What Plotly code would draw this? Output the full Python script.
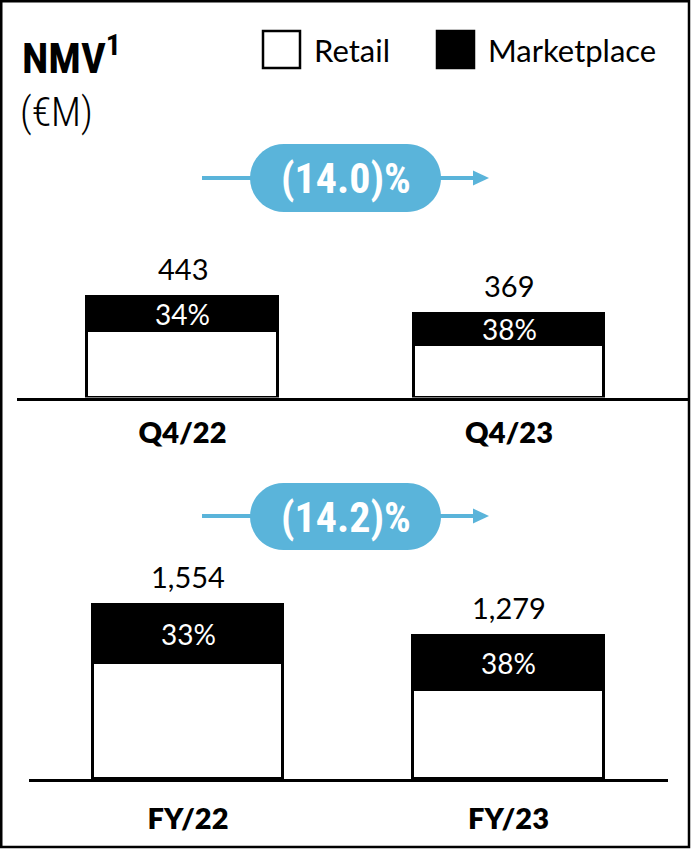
import plotly.graph_objects as go

# ---------------- data ----------------
categories_q = ["Q4/22", "Q4/23"]
nmv_q = [443, 369]
mkt_share_q = [34, 38]          # Marketplace share of NMV, %

categories_fy = ["FY/22", "FY/23"]
nmv_fy = [1554, 1279]
mkt_share_fy = [33, 38]

growth_q = "(14.0)%"
growth_fy = "(14.2)%"

legend_labels = ["Retail", "Marketplace"]

# ---------------- layout helpers ----------------
W, H = 693, 849
BLUE = "#5ab4da"
REG = "Lato, Open Sans, sans-serif"
COND_B = "DIN Condensed, Roboto Condensed, Liberation Sans Narrow, DejaVu Sans Condensed, Roboto, sans-serif"


def px(x):
    return x / W


def py(y):
    return 1 - y / H


def split(tot, share):
    mkt = [t * s / 100 for t, s in zip(tot, share)]
    ret = [t - m for t, m in zip(tot, mkt)]
    return ret, mkt


ret_q, mk_q = split(nmv_q, mkt_share_q)
ret_fy, mk_fy = split(nmv_fy, mkt_share_fy)

# panel geometry (pixels)
top_base, top_top, top_scale = 397.5, 230, 0.2275
bot_base, bot_top, bot_scale = 779, 560, 0.1117
top_dom_x, top_centers = (17, 689), (182.5, 509)
bot_dom_x, bot_centers = (29, 668), (188, 508.5)
bar_px = 190.5


def xrange(dom, centers):
    unit = centers[1] - centers[0]
    return [-(centers[0] - dom[0]) / unit, 1 + (dom[1] - centers[1]) / unit], bar_px / unit


xr_top, w_top = xrange(top_dom_x, top_centers)
xr_bot, w_bot = xrange(bot_dom_x, bot_centers)

fig = go.Figure()
for cats, ret, mk, xa, ya, w in [
    (categories_q, ret_q, mk_q, "x", "y", w_top),
    (categories_fy, ret_fy, mk_fy, "x2", "y2", w_bot),
]:
    fig.add_trace(go.Bar(x=cats, y=ret, name=legend_labels[0], xaxis=xa, yaxis=ya, width=w,
                         marker=dict(color="white", line=dict(color="black", width=3)),
                         showlegend=False, hoverinfo="skip"))
    fig.add_trace(go.Bar(x=cats, y=mk, name=legend_labels[1], xaxis=xa, yaxis=ya, width=w,
                         marker=dict(color="black", line=dict(color="black", width=3)),
                         showlegend=False, hoverinfo="skip"))

annotations = []
for cats, tot, ret, mk, share, xa, ya in [
    (categories_q, nmv_q, ret_q, mk_q, mkt_share_q, "x", "y"),
    (categories_fy, nmv_fy, ret_fy, mk_fy, mkt_share_fy, "x2", "y2"),
]:
    for c, t, r, m, s in zip(cats, tot, ret, mk, share):
        annotations.append(dict(x=c, y=t, xref=xa, yref=ya, text=f"{t:,}", showarrow=False,
                                yanchor="bottom", yshift=9,
                                font=dict(family=REG, size=29, color="black")))
        annotations.append(dict(x=c, y=r + m / 2, xref=xa, yref=ya, text=f"{s}%", showarrow=False,
                                yanchor="middle",
                                font=dict(family=REG, size=28, color="white")))

# title
annotations.append(dict(x=px(20), y=py(55), xref="paper", yref="paper", xanchor="left", yanchor="middle",
                        text="<b>NMV</b><sup><b>1</b></sup>", showarrow=False,
                        font=dict(family=COND_B, size=43, color="black")))
annotations.append(dict(x=px(18), y=py(112), xref="paper", yref="paper", xanchor="left", yanchor="middle",
                        text="(€M)", showarrow=False,
                        font=dict(family=COND_B, size=40, color="black", weight=300)))

# legend (custom, large swatches)
shapes = []
leg_y0, leg_y1 = 31, 68
for x0, fill, label, tx in [(263, "white", legend_labels[0], 312), (437, "black", legend_labels[1], 486)]:
    shapes.append(dict(type="rect", xref="paper", yref="paper", x0=px(x0), x1=px(x0 + 37),
                       y0=py(leg_y1), y1=py(leg_y0), fillcolor=fill, line=dict(color="black", width=2.5)))
    annotations.append(dict(x=px(tx), y=py(50), xref="paper", yref="paper", xanchor="left",
                            yanchor="middle", text=label, showarrow=False,
                            font=dict(family=REG, size=31, color="black")))


def pill(x0, x1, y0, y1):
    r_y = (y1 - y0) / 2
    r_x = r_y
    k = 0.5523
    cy = (y0 + y1) / 2

    def P(x, y):
        return f"{px(x):.5f},{py(y):.5f}"
    d = f"M {P(x0 + r_x, y0)} L {P(x1 - r_x, y0)} "
    d += f"C {P(x1 - r_x + k * r_x, y0)} {P(x1, cy - k * r_y)} {P(x1, cy)} "
    d += f"C {P(x1, cy + k * r_y)} {P(x1 - r_x + k * r_x, y1)} {P(x1 - r_x, y1)} "
    d += f"L {P(x0 + r_x, y1)} "
    d += f"C {P(x0 + r_x - k * r_x, y1)} {P(x0, cy + k * r_y)} {P(x0, cy)} "
    d += f"C {P(x0, cy - k * r_y)} {P(x0 + r_x - k * r_x, y0)} {P(x0 + r_x, y0)} Z"
    return d


for label, ytop, ybot, yline in [(growth_q, 144, 212, 178), (growth_fy, 483, 550, 516)]:
    shapes.append(dict(type="line", xref="paper", yref="paper", x0=px(202), x1=px(476),
                       y0=py(yline), y1=py(yline), line=dict(color=BLUE, width=4)))
    shapes.append(dict(type="path", xref="paper", yref="paper",
                       path=f"M {px(473):.5f},{py(yline - 7.5):.5f} L {px(489):.5f},{py(yline):.5f} "
                            f"L {px(473):.5f},{py(yline + 7.5):.5f} Z",
                       fillcolor=BLUE, line=dict(width=0)))
    shapes.append(dict(type="path", xref="paper", yref="paper", path=pill(250, 441, ytop, ybot),
                       fillcolor=BLUE, line=dict(width=0)))
    annotations.append(dict(x=px(345.5), y=py((ytop + ybot) / 2 + 1), xref="paper", yref="paper",
                            text=f"<b>{label}</b>", showarrow=False, xanchor="center", yanchor="middle",
                            font=dict(family=COND_B, size=42, color="white")))

# outer border
shapes.append(dict(type="rect", xref="paper", yref="paper", x0=px(1.25), x1=px(689),
                   y0=py(847), y1=py(1.25), line=dict(color="black", width=2.5), fillcolor="rgba(0,0,0,0)"))

axis_common = dict(type="category", showgrid=False, zeroline=False, showline=True,
                   linecolor="black", linewidth=3, ticks="outside", tickcolor="rgba(0,0,0,0)",
                   tickfont=dict(family=REG, size=29, color="black", weight=800), fixedrange=True)

fig.update_layout(
    width=W, height=H, margin=dict(l=0, r=0, t=0, b=0),
    paper_bgcolor="white", plot_bgcolor="rgba(0,0,0,0)",
    barmode="stack", bargap=0,
    xaxis=dict(axis_common, domain=[px(top_dom_x[0]), px(top_dom_x[1])], range=xr_top,
               anchor="y", ticklen=8),
    yaxis=dict(domain=[py(top_base), py(top_top)], range=[0, (top_base - top_top) / top_scale],
               visible=False, fixedrange=True, anchor="x"),
    xaxis2=dict(axis_common, domain=[px(bot_dom_x[0]), px(bot_dom_x[1])], range=xr_bot,
                anchor="y2", ticklen=12),
    yaxis2=dict(domain=[py(bot_base), py(bot_top)], range=[0, (bot_base - bot_top) / bot_scale],
                visible=False, fixedrange=True, anchor="x2"),
    shapes=shapes, annotations=annotations, showlegend=False,
)

fig.write_html("out.html")
